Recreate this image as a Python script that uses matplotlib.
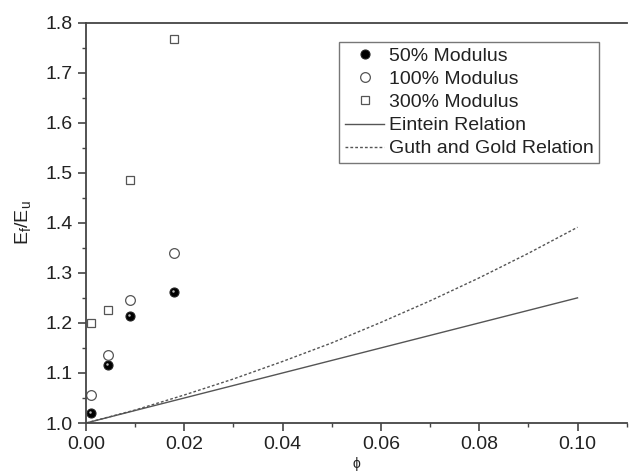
import matplotlib
matplotlib.use('Agg')
import matplotlib.pyplot as plt
from matplotlib.ticker import MultipleLocator, FormatStrFormatter
from matplotlib.transforms import offset_copy

plt.rcParams['font.family'] = ['Liberation Sans', 'DejaVu Sans']

# measured moduli ratios
phi_pts = [0.001, 0.0045, 0.009, 0.018]
mod50 = [1.020, 1.116, 1.213, 1.262]
mod100 = [1.055, 1.135, 1.245, 1.340]
mod300 = [1.199, 1.225, 1.486, 1.768]

# relation curves
phi_line = [0.0, 0.01, 0.02, 0.03, 0.04, 0.05, 0.06, 0.07, 0.08, 0.09, 0.10]
einstein = [1.0, 1.025, 1.05, 1.075, 1.10, 1.125, 1.15, 1.175, 1.20, 1.225, 1.25]
guth_gold = [1.0, 1.026, 1.056, 1.088, 1.123, 1.160, 1.201, 1.244, 1.290, 1.339, 1.391]

fig = plt.figure(figsize=(6.29, 4.76), dpi=100)
ax = fig.add_axes([0.1367, 0.1113, 0.9963 - 0.1367, 0.9527 - 0.1113])

ax.plot(phi_pts, mod50, 'o', ms=6.5, mfc='black', mec='#222222', mew=0.8,
        label='50% Modulus')
hl = offset_copy(ax.transData, fig=fig, x=-1.2, y=1.2, units='dots')
ax.plot(phi_pts, mod50, 'o', ms=1.8, mfc='#bbbbbb', mec='none', transform=hl)
ax.plot(phi_pts, mod100, 'o', ms=7, mfc='white', mec='#555555', mew=0.9,
        label='100% Modulus')
ax.plot(phi_pts, mod300, 's', ms=6, mfc='white', mec='#555555', mew=0.9,
        label='300% Modulus')
ax.plot(phi_line, einstein, '-', color='#555555', lw=1.0, label='Eintein Relation')
ax.plot(phi_line, guth_gold, color='#555555', lw=1.0, ls=(0, (2, 1.5)),
        label='Guth and Gold Relation')

ax.set_xlim(0, 0.11)
ax.set_ylim(1.0, 1.8)
ax.xaxis.set_major_locator(MultipleLocator(0.02))
ax.xaxis.set_minor_locator(MultipleLocator(0.01))
ax.yaxis.set_major_locator(MultipleLocator(0.1))
ax.yaxis.set_minor_locator(MultipleLocator(0.05))
ax.xaxis.set_major_formatter(FormatStrFormatter('%.2f'))
ax.yaxis.set_major_formatter(FormatStrFormatter('%.1f'))

for s in ['left', 'bottom', 'top']:
    ax.spines[s].set_color('#444444')
    ax.spines[s].set_linewidth(1.3)
ax.spines['right'].set_visible(False)
ax.tick_params(which='major', direction='out', length=6, width=1.2, color='#444444',
               labelsize=14, labelcolor='#222222')
ax.tick_params(which='minor', direction='out', length=3, width=1.0, color='#444444')

ax.set_ylabel('E$_\\mathregular{f}$/E$_\\mathregular{u}$', fontsize=14, color='#222222', labelpad=8)
ax.set_xlabel('\u03d5', fontsize=10, color='#222222', labelpad=3)

leg = ax.legend(loc='upper left', bbox_to_anchor=(0.4685, 0.952), fontsize=14,
                frameon=True, fancybox=False, handlelength=2.0, handletextpad=0.25,
                borderpad=0.3, labelspacing=0.28, borderaxespad=0)
leg.get_frame().set_edgecolor('#555555')
leg.get_frame().set_linewidth(1.0)
for t in leg.get_texts():
    t.set_color('#222222')

fig.savefig('out.png', dpi=100)
